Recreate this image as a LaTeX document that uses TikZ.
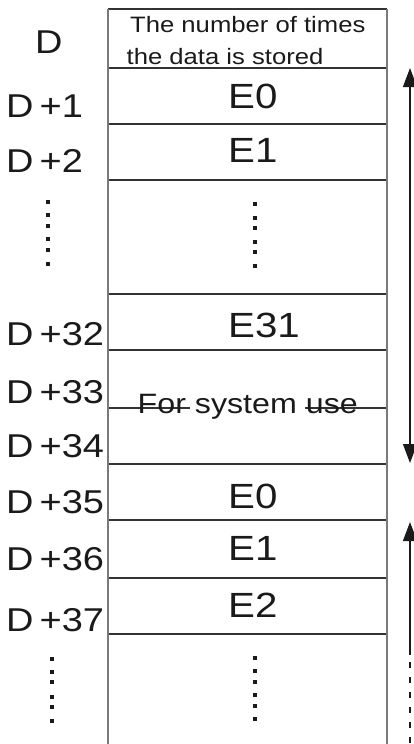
\documentclass[tikz,border=0pt]{standalone}
\usepackage{fontspec}
\usetikzlibrary{arrows.meta}
\newfontfamily\af[FakeStretch=1.15]{Liberation Sans}
\definecolor{ink}{HTML}{1A1A1A}
\definecolor{hline}{HTML}{333333}
\definecolor{vline}{HTML}{7A7A7A}
\begin{document}
\begin{tikzpicture}[x=1pt,y=-1pt,
  lbl/.style={anchor=base west,inner sep=0pt,text=ink,font=\af\fontsize{33}{36}\selectfont},
  elbl/.style={anchor=base west,inner sep=0pt,text=ink,font=\af\fontsize{35}{38}\selectfont},
  small/.style={anchor=base west,inner sep=0pt,text=ink,font=\af\fontsize{22.3}{26}\selectfont},
  mid/.style={anchor=base west,inner sep=0pt,text=ink,font=\af\fontsize{28}{30}\selectfont},
  hl/.style={draw=hline,line width=1.2pt},
  vl/.style={draw=vline,line width=1.3pt},
  dot/.style={fill=ink},
  arr/.style={draw=ink,line width=1.1pt},
  >={Triangle[length=19pt,width=14pt]}]
\useasboundingbox (0,0) rectangle (414,744);
% horizontal lines
\foreach \y in {9,68,124,180,294,350,464,520,578,634}
  \draw[hl] (108,\y) -- (387,\y);
\draw[hl] (108,408) -- (190,408);
\draw[hl] (305,408) -- (387,408);
% vertical borders
\draw[vl] (108,9) -- (108,744);
\draw[vl] (387,9) -- (387,744);
% left labels
\node[lbl] (d0) at (35,53) {D};
\node[lbl] (d1) at (6,117) {D\kern6pt+1};
\node[lbl] (d2) at (6,172) {D\kern6pt+2};
\node[lbl] (d32) at (6,345) {D\kern6pt+32};
\node[lbl] (d33) at (6,403) {D\kern6pt+33};
\node[lbl] (d34) at (6,457) {D\kern6pt+34};
\node[lbl] (d35) at (6,513) {D\kern6pt+35};
\node[lbl] (d36) at (6,570) {D\kern6pt+36};
\node[lbl] (d37) at (6,631) {D\kern6pt+37};
% cell texts
\node[small] (t1) at (130,32) {The number of times};
\node[small] (t2) at (126.5,64) {the data is stored};
\node[elbl] (e0a) at (228,108) {E0};
\node[elbl] (e1a) at (228,162) {E1};
\node[elbl] (e31) at (228,337) {E31};
\node[mid] (sys) at (137.5,413) {For system use};
\node[elbl] (e0b) at (228,508) {E0};
\node[elbl] (e1b) at (228,560) {E1};
\node[elbl] (e2b) at (228,617) {E2};
% dots
\foreach \y in {202,215,226,239,250,264} \fill[dot] (46.25,\y-1.75) rectangle ++(3.5,3.5);
\foreach \y in {204,218,228,242,252,266} \fill[dot] (253.25,\y-1.75) rectangle ++(3.5,3.5);
\foreach \y in {659,672,682,697,707,721} \fill[dot] (50.25,\y-1.75) rectangle ++(3.5,3.5);
\foreach \y in {658,671,682,695,706,719} \fill[dot] (253.25,\y-1.75) rectangle ++(3.5,3.5);
% arrows
\coordinate (a1t) at (410,68);
\coordinate (a1b) at (410,463);
\coordinate (a2t) at (410,522);
\coordinate (a2b) at (410,655);
\coordinate (a2d) at (410,662);
\coordinate (a2e) at (410,744);
\draw[arr,<->] (a1t) -- (a1b);
\draw[arr,<-] (a2t) -- (a2b);
\draw[arr,dash pattern=on 6pt off 9pt] (a2d) -- (a2e);
\end{tikzpicture}
\end{document}
